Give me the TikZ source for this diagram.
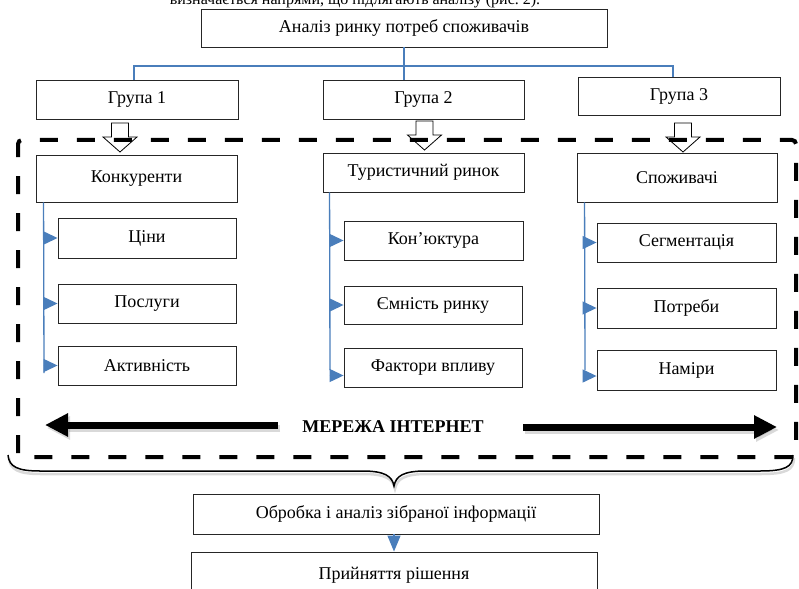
\documentclass[tikz,border=0pt]{standalone}
\usepackage{fontspec}
\setmainfont{Liberation Serif}
\usetikzlibrary{arrows.meta}
\definecolor{lineblue}{RGB}{74,126,187}
\begin{document}
\begin{tikzpicture}[x=1pt,y=-1pt,
  box/.style={draw=black!85, line width=0.9pt, fill=white, inner sep=0pt, font=\fontsize{18}{20}\selectfont},
  sz/.style 2 args={minimum width=#1pt, minimum height=#2pt},
  bl/.style={draw=lineblue, line width=1.3pt},
  tri/.style={-{Triangle[length=14pt,width=13pt]}, lineblue, fill=lineblue},
  dashbox/.style={line width=4pt, dash pattern=on 18pt off 19pt},
  bigarrow/.style={line width=7pt, -{Triangle[length=23pt,width=22pt]}},
  harrow/.pic={\draw[fill=white,line width=0.8pt] (-8.5,0) -- (8.5,0) -- (8.5,14) -- (17,14) -- (0,29) -- (-17,14) -- (-8.5,14) -- cycle;}
]
\useasboundingbox (0,0) rectangle (799,588);

% cut-off page text
\node[font=\fontsize{16}{18}\selectfont, anchor=base, inner sep=0pt] (pg) at (355,5) {визначається напрями, що підлягають аналізу (рис.~2).};

% top level
\node[box, sz={406}{38}] (top) at (404,28) {Аналіз ринку потреб споживачів};
\node[box, sz={202}{39}] (g1) at (137,99.5) {Група 1};
\node[box, sz={201}{39}] (g2) at (423.5,99.5) {Група 2};
\node[box, sz={202}{38}] (g3) at (679,96) {Група 3};
\coordinate (hub) at (404,66);
\coordinate (g1t) at (134,80);
\coordinate (g2t) at (404,80);
\coordinate (g3t) at (673,77);
\draw[bl] (top.south) -- (g2t);
\draw[bl] (g1t) |- (hub) -| (g3t);

% hollow arrows
\pic at (120,123) {harrow};
\pic at (424.5,121) {harrow};
\pic at (683,123) {harrow};

% dashed frame
\draw[dashbox, rounded corners=4pt] (18,457) -- (18,140) -- (796,140) -- (796,457) -- cycle;

% column 1
\node[box, sz={201}{47}] (k1) at (136.5,178.5) {Конкуренти};
\node[box, sz={178}{40}] (c1) at (147,238) {Ціни};
\node[box, sz={178}{39}] (c2) at (147,303.5) {Послуги};
\node[box, sz={178}{39}] (c3) at (147,365.5) {Активність};
\coordinate (l1) at ([xshift=8pt]k1.south west);
\coordinate (l1e) at (44,373);
\draw[bl] (l1) -- (l1e);
\foreach \n in {c1,c2,c3} \draw[bl,tri] (l1 |- \n.west) -- (\n.west);

% column 2
\node[box, sz={201}{39}] (k2) at (423.5,172.5) {Туристичний ринок};
\node[box, sz={179}{39}] (d1) at (433.5,240.5) {Кон’юктура};
\node[box, sz={178}{38}] (d2) at (433,305) {Ємність ринку};
\node[box, sz={178}{39}] (d3) at (433,367.5) {Фактори впливу};
\coordinate (l2) at ([xshift=7pt]k2.south west);
\coordinate (l2e) at (330,370);
\draw[bl] (l2) -- (l2e);
\foreach \n in {d1,d2} \draw[bl,tri] (l2 |- \n.west) -- (\n.west);
\coordinate (d3a) at ([yshift=-8pt]d3.west);
\draw[bl,tri] (l2 |- d3a) -- (d3a);

% column 3
\node[box, sz={200}{49}] (k3) at (677,177.5) {Споживачі};
\node[box, sz={179}{39}] (e1) at (686.5,242.5) {Сегментація};
\node[box, sz={179}{40}] (e2) at (686.5,308) {Потреби};
\node[box, sz={179}{40}] (e3) at (686.5,370) {Наміри};
\coordinate (l3) at ([xshift=8pt]k3.south west);
\coordinate (l3e) at (585,370);
\draw[bl] (l3) -- (l3e);
\coordinate (e3a) at ([yshift=-6pt]e3.west);
\foreach \n in {e1,e2} \draw[bl,tri] (l3 |- \n.west) -- (\n.west);
\draw[bl,tri] (l3 |- e3a) -- (e3a);

% internet arrows
\coordinate (la) at (278,425);
\coordinate (lt) at (45,425);
\coordinate (ra) at (523,427);
\coordinate (rt) at (777,427);
\draw[bigarrow, black, opacity=0.15] ([shift={(2,3)}]la) -- ([shift={(2,3)}]lt);
\draw[bigarrow, black, opacity=0.15] ([shift={(2,3)}]ra) -- ([shift={(2,3)}]rt);
\draw[bigarrow] (la) -- (lt);
\draw[bigarrow] (ra) -- (rt);
\node[font=\bfseries\fontsize{18}{20}\selectfont] (net) at (393,427) {МЕРЕЖА ІНТЕРНЕТ};

% brace
\draw[black, opacity=0.15, line width=2.5pt, shift={(1,3)}] (8,455) .. controls (9,467) and (18,471) .. (40,471) -- (362,471) .. controls (385,471) and (392,476) .. (394,486) .. controls (396,476) and (403,471) .. (426,471) -- (760,471) .. controls (785,471) and (793,467) .. (793,455);
\draw[line width=1.5pt] (8,455) .. controls (9,467) and (18,471) .. (40,471) -- (362,471) .. controls (385,471) and (392,476) .. (394,486) .. controls (396,476) and (403,471) .. (426,471) -- (760,471) .. controls (785,471) and (793,467) .. (793,455);

% bottom
\node[box, sz={406}{40}] (o1) at (396,514) {Обробка і аналіз зібраної інформації};
\node[box, sz={406}{46}] (o2) at (394,575) {Прийняття рішення};
\draw[bl, -{Triangle[length=16pt,width=13pt]}, lineblue, fill=lineblue] (o1.south -| o2.north) -- (o2.north);
\end{tikzpicture}
\end{document}
